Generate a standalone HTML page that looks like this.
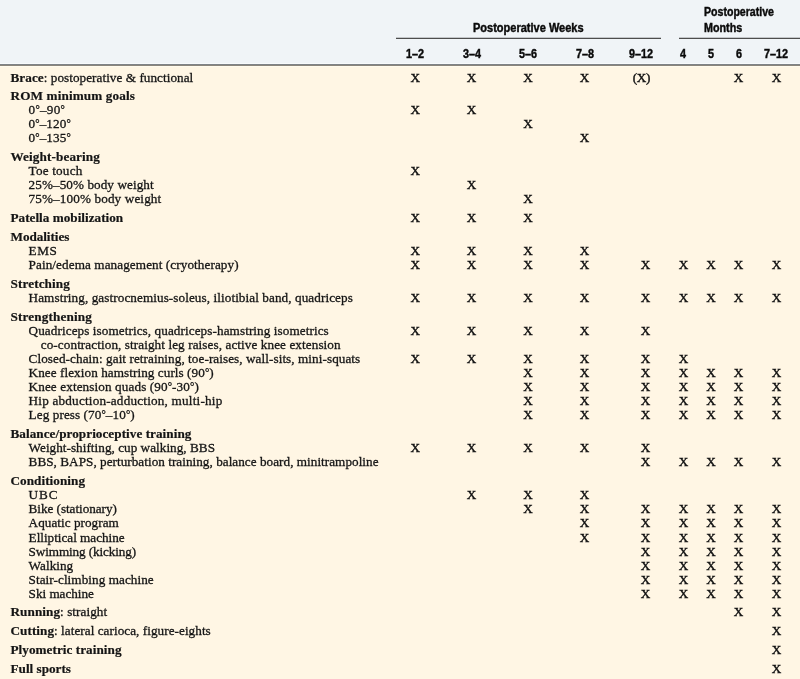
<!DOCTYPE html>
<html><head><meta charset="utf-8"><title>Postoperative rehabilitation protocol</title>
<style>
html,body{margin:0;padding:0;}
body{width:800px;height:679px;overflow:hidden;position:relative;background:#fff6e4;font-family:"Liberation Serif",serif;color:#1a1a1a;}
#wrap{position:absolute;left:0;top:0;width:800px;height:679px;overflow:hidden;will-change:transform;}
#hdr{position:absolute;left:0;top:0;width:800px;height:64px;background:#f0f4f7;}
#hb{position:absolute;left:0;top:63px;width:800px;height:4px;background:linear-gradient(#f8fafb 0,#f8fafb 25%,#7e8387 25%,#7e8387 50%,#8b857a 50%,#8b857a 75%,#fffbee 75%);}
.ln{position:absolute;height:2px;background:linear-gradient(#c3c6c9 0,#c3c6c9 50%,#4d4d4d 50%);}
.h{position:absolute;font-family:"Liberation Sans",sans-serif;font-weight:bold;color:#0a0a0a;-webkit-text-stroke:0.42px #0a0a0a;white-space:nowrap;line-height:16px;transform-origin:0 50%;}
.hc{position:absolute;font-family:"Liberation Sans",sans-serif;font-weight:bold;color:#0a0a0a;-webkit-text-stroke:0.42px #0a0a0a;white-space:nowrap;line-height:14px;font-size:12px;width:60px;text-align:center;transform:scaleX(0.9);}
.r{position:absolute;white-space:nowrap;font-size:13.2px;line-height:16px;height:16px;color:#151515;-webkit-text-stroke:0.3px #151515;}
.r b{-webkit-text-stroke:0.2px #151515;}
.d{font-size:10.8px;position:relative;top:-1px;}
.x{position:absolute;white-space:nowrap;font-size:13.2px;line-height:16px;height:16px;width:40px;text-align:center;color:#111;-webkit-text-stroke:0.4px #111;}
.x.p{letter-spacing:-0.3px;}
</style></head><body>
<div id="wrap"><div id="hdr"></div><div id="hb"></div>

<div class="ln" style="left:396px;top:37px;width:264.5px"></div>
<div class="ln" style="left:678.5px;top:37px;width:121.5px"></div>
<div class="h" id="hw" style="left:472.6px;top:20px;font-size:12px;transform:scaleX(0.918)">Postoperative Weeks</div>
<div class="h" id="hm1" style="left:703.6px;top:4px;font-size:12px;transform:scaleX(0.882)">Postoperative</div>
<div class="h" id="hm2" style="left:703.6px;top:20px;font-size:12px;transform:scaleX(0.895)">Months</div>
<div class="hc" style="left:384.50px;top:47px">1–2</div>
<div class="hc" style="left:442.00px;top:47px">3–4</div>
<div class="hc" style="left:498.00px;top:47px">5–6</div>
<div class="hc" style="left:555.10px;top:47px">7–8</div>
<div class="hc" style="left:611.00px;top:47px">9–12</div>
<div class="hc" style="left:652.80px;top:47px">4</div>
<div class="hc" style="left:680.60px;top:47px">5</div>
<div class="hc" style="left:708.80px;top:47px">6</div>
<div class="hc" style="left:746.00px;top:47px">7–12</div>
<div class="r" style="left:10.50px;top:69.55px;letter-spacing:0.047px"><b>Brace</b>: postoperative &amp; functional</div>
<div class="x" style="left:395.25px;top:69.55px">X</div>
<div class="x" style="left:451.60px;top:69.55px">X</div>
<div class="x" style="left:507.90px;top:69.55px">X</div>
<div class="x" style="left:564.60px;top:69.55px">X</div>
<div class="x p" style="left:621.45px;top:69.55px">(X)</div>
<div class="x" style="left:718.40px;top:69.55px">X</div>
<div class="x" style="left:756.50px;top:69.55px">X</div>
<div class="r" style="left:10.50px;top:87.55px;letter-spacing:0.125px"><b>ROM minimum goals</b></div>
<div class="r" style="left:28.60px;top:101.55px;letter-spacing:0.250px">0<span class="d">°</span>–90<span class="d">°</span></div>
<div class="x" style="left:395.25px;top:101.55px">X</div>
<div class="x" style="left:451.60px;top:101.55px">X</div>
<div class="r" style="left:28.60px;top:115.55px;letter-spacing:0.083px">0<span class="d">°</span>–120<span class="d">°</span></div>
<div class="x" style="left:507.90px;top:115.55px">X</div>
<div class="r" style="left:28.60px;top:129.55px;letter-spacing:0.083px">0<span class="d">°</span>–135<span class="d">°</span></div>
<div class="x" style="left:564.60px;top:129.55px">X</div>
<div class="r" style="left:10.50px;top:148.55px;letter-spacing:0.115px"><b>Weight-bearing</b></div>
<div class="r" style="left:28.60px;top:162.55px;letter-spacing:0.188px">Toe touch</div>
<div class="x" style="left:395.25px;top:162.55px">X</div>
<div class="r" style="left:28.60px;top:176.55px;letter-spacing:0.069px">25%–50% body weight</div>
<div class="x" style="left:451.60px;top:176.55px">X</div>
<div class="r" style="left:28.60px;top:190.55px;letter-spacing:0.118px">75%–100% body weight</div>
<div class="x" style="left:507.90px;top:190.55px">X</div>
<div class="r" style="left:10.50px;top:209.55px;letter-spacing:0.013px"><b>Patella mobilization</b></div>
<div class="x" style="left:395.25px;top:209.55px">X</div>
<div class="x" style="left:451.60px;top:209.55px">X</div>
<div class="x" style="left:507.90px;top:209.55px">X</div>
<div class="r" style="left:10.50px;top:228.55px;letter-spacing:-0.056px"><b>Modalities</b></div>
<div class="r" style="left:28.60px;top:242.55px;letter-spacing:0.500px">EMS</div>
<div class="x" style="left:395.25px;top:242.55px">X</div>
<div class="x" style="left:451.60px;top:242.55px">X</div>
<div class="x" style="left:507.90px;top:242.55px">X</div>
<div class="x" style="left:564.60px;top:242.55px">X</div>
<div class="r" style="left:28.60px;top:256.55px;letter-spacing:0.081px">Pain/edema management (cryotherapy)</div>
<div class="x" style="left:395.25px;top:256.55px">X</div>
<div class="x" style="left:451.60px;top:256.55px">X</div>
<div class="x" style="left:507.90px;top:256.55px">X</div>
<div class="x" style="left:564.60px;top:256.55px">X</div>
<div class="x" style="left:625.40px;top:256.55px">X</div>
<div class="x" style="left:663.40px;top:256.55px">X</div>
<div class="x" style="left:690.90px;top:256.55px">X</div>
<div class="x" style="left:718.40px;top:256.55px">X</div>
<div class="x" style="left:756.50px;top:256.55px">X</div>
<div class="r" style="left:10.50px;top:275.55px;letter-spacing:0.111px"><b>Stretching</b></div>
<div class="r" style="left:28.60px;top:289.55px;letter-spacing:0.076px">Hamstring, gastrocnemius-soleus, iliotibial band, quadriceps</div>
<div class="x" style="left:395.25px;top:289.55px">X</div>
<div class="x" style="left:451.60px;top:289.55px">X</div>
<div class="x" style="left:507.90px;top:289.55px">X</div>
<div class="x" style="left:564.60px;top:289.55px">X</div>
<div class="x" style="left:625.40px;top:289.55px">X</div>
<div class="x" style="left:663.40px;top:289.55px">X</div>
<div class="x" style="left:690.90px;top:289.55px">X</div>
<div class="x" style="left:718.40px;top:289.55px">X</div>
<div class="x" style="left:756.50px;top:289.55px">X</div>
<div class="r" style="left:10.50px;top:308.55px;letter-spacing:0.146px"><b>Strengthening</b></div>
<div class="r" style="left:28.60px;top:322.55px;letter-spacing:0.080px">Quadriceps isometrics, quadriceps-hamstring isometrics</div>
<div class="x" style="left:395.25px;top:322.55px">X</div>
<div class="x" style="left:451.60px;top:322.55px">X</div>
<div class="x" style="left:507.90px;top:322.55px">X</div>
<div class="x" style="left:564.60px;top:322.55px">X</div>
<div class="x" style="left:625.40px;top:322.55px">X</div>
<div class="r" style="left:40.75px;top:336.55px;letter-spacing:0.083px">co-contraction, straight leg raises, active knee extension</div>
<div class="r" style="left:28.60px;top:350.55px;letter-spacing:0.066px">Closed-chain: gait retraining, toe-raises, wall-sits, mini-squats</div>
<div class="x" style="left:395.25px;top:350.55px">X</div>
<div class="x" style="left:451.60px;top:350.55px">X</div>
<div class="x" style="left:507.90px;top:350.55px">X</div>
<div class="x" style="left:564.60px;top:350.55px">X</div>
<div class="x" style="left:625.40px;top:350.55px">X</div>
<div class="x" style="left:663.40px;top:350.55px">X</div>
<div class="r" style="left:28.60px;top:364.55px;letter-spacing:0.061px">Knee flexion hamstring curls (90<span class="d">°</span>)</div>
<div class="x" style="left:507.90px;top:364.55px">X</div>
<div class="x" style="left:564.60px;top:364.55px">X</div>
<div class="x" style="left:625.40px;top:364.55px">X</div>
<div class="x" style="left:663.40px;top:364.55px">X</div>
<div class="x" style="left:690.90px;top:364.55px">X</div>
<div class="x" style="left:718.40px;top:364.55px">X</div>
<div class="x" style="left:756.50px;top:364.55px">X</div>
<div class="r" style="left:28.60px;top:378.55px;letter-spacing:0.103px">Knee extension quads (90<span class="d">°</span>-30<span class="d">°</span>)</div>
<div class="x" style="left:507.90px;top:378.55px">X</div>
<div class="x" style="left:564.60px;top:378.55px">X</div>
<div class="x" style="left:625.40px;top:378.55px">X</div>
<div class="x" style="left:663.40px;top:378.55px">X</div>
<div class="x" style="left:690.90px;top:378.55px">X</div>
<div class="x" style="left:718.40px;top:378.55px">X</div>
<div class="x" style="left:756.50px;top:378.55px">X</div>
<div class="r" style="left:28.60px;top:392.55px;letter-spacing:0.197px">Hip abduction-adduction, multi-hip</div>
<div class="x" style="left:507.90px;top:392.55px">X</div>
<div class="x" style="left:564.60px;top:392.55px">X</div>
<div class="x" style="left:625.40px;top:392.55px">X</div>
<div class="x" style="left:663.40px;top:392.55px">X</div>
<div class="x" style="left:690.90px;top:392.55px">X</div>
<div class="x" style="left:718.40px;top:392.55px">X</div>
<div class="x" style="left:756.50px;top:392.55px">X</div>
<div class="r" style="left:28.60px;top:406.55px;letter-spacing:0.083px">Leg press (70<span class="d">°</span>–10<span class="d">°</span>)</div>
<div class="x" style="left:507.90px;top:406.55px">X</div>
<div class="x" style="left:564.60px;top:406.55px">X</div>
<div class="x" style="left:625.40px;top:406.55px">X</div>
<div class="x" style="left:663.40px;top:406.55px">X</div>
<div class="x" style="left:690.90px;top:406.55px">X</div>
<div class="x" style="left:718.40px;top:406.55px">X</div>
<div class="x" style="left:756.50px;top:406.55px">X</div>
<div class="r" style="left:10.50px;top:425.55px;letter-spacing:0.042px"><b>Balance/proprioceptive training</b></div>
<div class="r" style="left:28.60px;top:439.55px;letter-spacing:0.031px">Weight-shifting, cup walking, BBS</div>
<div class="x" style="left:395.25px;top:439.55px">X</div>
<div class="x" style="left:451.60px;top:439.55px">X</div>
<div class="x" style="left:507.90px;top:439.55px">X</div>
<div class="x" style="left:564.60px;top:439.55px">X</div>
<div class="x" style="left:625.40px;top:439.55px">X</div>
<div class="r" style="left:28.60px;top:453.55px;letter-spacing:0.032px">BBS, BAPS, perturbation training, balance board, minitrampoline</div>
<div class="x" style="left:625.40px;top:453.55px">X</div>
<div class="x" style="left:663.40px;top:453.55px">X</div>
<div class="x" style="left:690.90px;top:453.55px">X</div>
<div class="x" style="left:718.40px;top:453.55px">X</div>
<div class="x" style="left:756.50px;top:453.55px">X</div>
<div class="r" style="left:10.50px;top:472.55px;letter-spacing:0.045px"><b>Conditioning</b></div>
<div class="r" style="left:28.60px;top:486.55px;letter-spacing:0.875px">UBC</div>
<div class="x" style="left:451.60px;top:486.55px">X</div>
<div class="x" style="left:507.90px;top:486.55px">X</div>
<div class="x" style="left:564.60px;top:486.55px">X</div>
<div class="r" style="left:28.60px;top:500.55px;letter-spacing:-0.047px">Bike (stationary)</div>
<div class="x" style="left:507.90px;top:500.55px">X</div>
<div class="x" style="left:564.60px;top:500.55px">X</div>
<div class="x" style="left:625.40px;top:500.55px">X</div>
<div class="x" style="left:663.40px;top:500.55px">X</div>
<div class="x" style="left:690.90px;top:500.55px">X</div>
<div class="x" style="left:718.40px;top:500.55px">X</div>
<div class="x" style="left:756.50px;top:500.55px">X</div>
<div class="r" style="left:28.60px;top:514.54px;letter-spacing:0.036px">Aquatic program</div>
<div class="x" style="left:564.60px;top:514.54px">X</div>
<div class="x" style="left:625.40px;top:514.54px">X</div>
<div class="x" style="left:663.40px;top:514.54px">X</div>
<div class="x" style="left:690.90px;top:514.54px">X</div>
<div class="x" style="left:718.40px;top:514.54px">X</div>
<div class="x" style="left:756.50px;top:514.54px">X</div>
<div class="r" style="left:28.60px;top:529.54px;letter-spacing:-0.015px">Elliptical machine</div>
<div class="x" style="left:564.60px;top:529.54px">X</div>
<div class="x" style="left:625.40px;top:529.54px">X</div>
<div class="x" style="left:663.40px;top:529.54px">X</div>
<div class="x" style="left:690.90px;top:529.54px">X</div>
<div class="x" style="left:718.40px;top:529.54px">X</div>
<div class="x" style="left:756.50px;top:529.54px">X</div>
<div class="r" style="left:28.60px;top:543.54px;letter-spacing:-0.118px">Swimming (kicking)</div>
<div class="x" style="left:625.40px;top:543.54px">X</div>
<div class="x" style="left:663.40px;top:543.54px">X</div>
<div class="x" style="left:690.90px;top:543.54px">X</div>
<div class="x" style="left:718.40px;top:543.54px">X</div>
<div class="x" style="left:756.50px;top:543.54px">X</div>
<div class="r" style="left:28.60px;top:557.54px;letter-spacing:0.042px">Walking</div>
<div class="x" style="left:625.40px;top:557.54px">X</div>
<div class="x" style="left:663.40px;top:557.54px">X</div>
<div class="x" style="left:690.90px;top:557.54px">X</div>
<div class="x" style="left:718.40px;top:557.54px">X</div>
<div class="x" style="left:756.50px;top:557.54px">X</div>
<div class="r" style="left:28.60px;top:571.54px;letter-spacing:0.059px">Stair-climbing machine</div>
<div class="x" style="left:625.40px;top:571.54px">X</div>
<div class="x" style="left:663.40px;top:571.54px">X</div>
<div class="x" style="left:690.90px;top:571.54px">X</div>
<div class="x" style="left:718.40px;top:571.54px">X</div>
<div class="x" style="left:756.50px;top:571.54px">X</div>
<div class="r" style="left:28.60px;top:585.54px;letter-spacing:-0.025px">Ski machine</div>
<div class="x" style="left:625.40px;top:585.54px">X</div>
<div class="x" style="left:663.40px;top:585.54px">X</div>
<div class="x" style="left:690.90px;top:585.54px">X</div>
<div class="x" style="left:718.40px;top:585.54px">X</div>
<div class="x" style="left:756.50px;top:585.54px">X</div>
<div class="r" style="left:10.50px;top:603.54px;letter-spacing:0.062px"><b>Running</b>: straight</div>
<div class="x" style="left:718.40px;top:603.54px">X</div>
<div class="x" style="left:756.50px;top:603.54px">X</div>
<div class="r" style="left:10.50px;top:622.54px;letter-spacing:0.046px"><b>Cutting</b>: lateral carioca, figure-eights</div>
<div class="x" style="left:756.50px;top:622.54px">X</div>
<div class="r" style="left:10.50px;top:641.54px;letter-spacing:0.042px"><b>Plyometric training</b></div>
<div class="x" style="left:756.50px;top:641.54px">X</div>
<div class="r" style="left:10.50px;top:660.54px"><b>Full sports</b></div>
<div class="x" style="left:756.50px;top:660.54px">X</div>
</div></body></html>
